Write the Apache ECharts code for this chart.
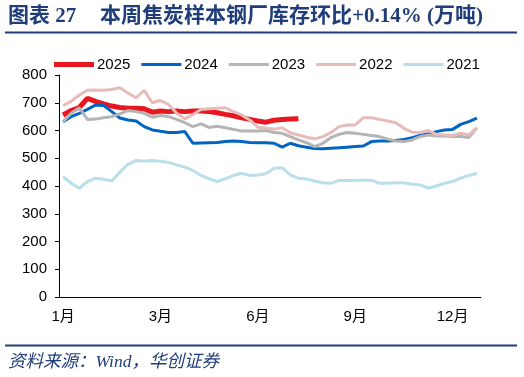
<!DOCTYPE html>
<html>
<head>
<meta charset="utf-8">
<script src="https://cdn.jsdelivr.net/npm/echarts@6/dist/echarts.min.js"></script>
<style>
  html, body { margin: 0; padding: 0; background: #fff; }
  #chart { width: 524px; height: 377px; }
</style>
</head>
<body>
<div id="chart"></div>
<script>
// weekly categories (week 1 .. 52)
const weeks = [1, 2, 3, 4, 5, 6, 7, 8, 9, 10, 11, 12, 13, 14, 15, 16, 17, 18, 19, 20,
  21, 22, 23, 24, 25, 26, 27, 28, 29, 30, 31, 32, 33, 34, 35, 36, 37, 38, 39, 40,
  41, 42, 43, 44, 45, 46, 47, 48, 49, 50, 51, 52];

// month labels, one every 12 weeks
const monthLabels = ['1月', '3月', '6月', '9月', '12月'];

const seriesNames = ['2025', '2024', '2023', '2022', '2021'];

const data2025 = [656, 672, 683, 716, 705, 696, 688, 683, 680, 680, 678, 666, 670, 668, 670,
  668, 670, 670, 668, 664, 658, 653, 646, 640, 634, 630, 637, 640, 641, 642];

const data2024 = [632, 650, 662, 676, 692, 690, 668, 645, 638, 634, 614, 602, 597, 593, 593,
  596, 554, 555, 556, 557, 560, 562, 560, 557, 556, 556, 554, 540, 554, 545,
  540, 535, 534, 536, 538, 540, 542, 544, 560, 562, 562, 564, 568, 574, 582,
  588, 596, 602, 604, 622, 632, 645];

const data2023 = [632, 662, 682, 640, 641, 646, 650, 660, 672, 668, 662, 648, 654, 650, 640,
  628, 614, 624, 611, 615, 610, 604, 598, 598, 598, 600, 593, 590, 578, 566,
  556, 542, 554, 574, 586, 593, 590, 586, 582, 578, 569, 562, 560, 566, 578,
  584, 580, 580, 578, 578, 575, 610];

const data2022 = [690, 705, 728, 745, 746, 745, 748, 754, 735, 718, 745, 700, 708, 694, 662,
  642, 658, 676, 678, 680, 682, 668, 656, 638, 612, 608, 605, 610, 592, 584,
  576, 570, 578, 592, 614, 620, 620, 646, 646, 640, 634, 628, 608, 594, 593,
  600, 586, 584, 582, 590, 584, 610];

const data2021 = [434, 410, 392, 416, 428, 424, 418, 450, 478, 492, 490, 492, 489, 485, 476,
  468, 456, 438, 426, 416, 426, 438, 446, 438, 440, 444, 464, 466, 440, 428,
  425, 418, 412, 410, 420, 420, 420, 422, 420, 410, 410, 412, 412, 406, 404,
  392, 400, 410, 416, 428, 438, 445];

const seriesData = [data2025, data2024, data2023, data2022, data2021];
const seriesColors = ['#E8161F', '#0064C3', '#B4B4B4', '#E8BBBB', '#B9DFEB'];
const seriesWidths = [5, 3, 3, 3, 3];

const yTicks = { min: 0, max: 800, interval: 100 };

const titleColor = '#1F3D78';
const latinFont = "'Liberation Sans', Arial, 'Noto Sans CJK SC', sans-serif";
const serifFont = "'Liberation Serif', 'Noto Sans CJK SC', serif";

function initChart() {
    const el = document.getElementById('chart');
    if (typeof echarts === 'undefined' || !el) {
        console.error('ECharts is not loaded!');
        return;
    }
    const chart = echarts.init(el, null, { renderer: 'canvas' });

    const series = seriesNames.map((name, k) => ({
        name: name,
        type: 'line',
        data: seriesData[k],
        symbol: 'none',
        smooth: false,
        animation: false,
        lineStyle: { color: seriesColors[k], width: seriesWidths[k] },
        itemStyle: { color: seriesColors[k] }
    }));

    // legend swatches: flat bars, thickness follows the series line width
    const legendItems = seriesNames.map((name, k) => ({
        name: name,
        icon: 'path://M0 0H40V' + seriesWidths[k] + 'H0Z',
        itemStyle: { color: seriesColors[k], borderWidth: 0 }
    }));

    const option = {
        backgroundColor: '#fff',
        animation: false,
        legend: {
            data: legendItems,
            orient: 'horizontal',
            left: 49,
            top: 52,
            itemWidth: 40,
            itemHeight: 14,
            itemGap: 11,
            symbolKeepAspect: true,
            lineStyle: { width: 0 },
            textStyle: { color: '#000', fontSize: 15, fontFamily: latinFont, padding: [0, 0, 0, -2] }
        },
        grid: { left: 59, right: 43, top: 75, bottom: 80 },
        xAxis: {
            type: 'category',
            data: weeks,
            boundaryGap: true,
            axisLine: { lineStyle: { color: '#000', width: 1 } },
            axisTick: { interval: 11, length: 5, lineStyle: { color: '#000' } },
            axisLabel: {
                interval: 11,
                margin: 12,
                color: '#000',
                fontSize: 15,
                fontFamily: latinFont,
                formatter: (value, index) => monthLabels[index / 12] || ''
            },
            splitLine: { show: false }
        },
        yAxis: {
            type: 'value',
            min: yTicks.min,
            max: yTicks.max,
            interval: yTicks.interval,
            axisLine: { show: true, lineStyle: { color: '#000', width: 1 } },
            axisTick: { show: true, length: 4, lineStyle: { color: '#000' } },
            axisLabel: { margin: 12, color: '#000', fontSize: 15, fontFamily: latinFont },
            splitLine: { show: false }
        },
        graphic: [
            {
                type: 'text', x: 8, y: 17, silent: true,
                style: { text: '图表 27', font: 'bold 21px ' + serifFont, fill: titleColor, verticalAlign: 'middle' }
            },
            {
                type: 'text', x: 100, y: 17, silent: true,
                style: { text: '本周焦炭样本钢厂库存环比+0.14% (万吨)', font: 'bold 21px ' + serifFont, fill: titleColor, verticalAlign: 'middle' }
            },
            {
                type: 'line', silent: true,
                shape: { x1: 5, y1: 32.5, x2: 517, y2: 32.5 },
                style: { stroke: titleColor, lineWidth: 2 }
            },
            {
                type: 'line', silent: true,
                shape: { x1: 5, y1: 345.5, x2: 517, y2: 345.5 },
                style: { stroke: titleColor, lineWidth: 2 }
            },
            {
                type: 'text', x: 8, y: 362, silent: true,
                style: { text: '资料来源：Wind，华创证券', font: 'italic 17.5px ' + serifFont, fill: titleColor, verticalAlign: 'middle' }
            }
        ],
        series: series
    };

    chart.setOption(option);
}

document.addEventListener('DOMContentLoaded', initChart);
</script>
</body>
</html>
